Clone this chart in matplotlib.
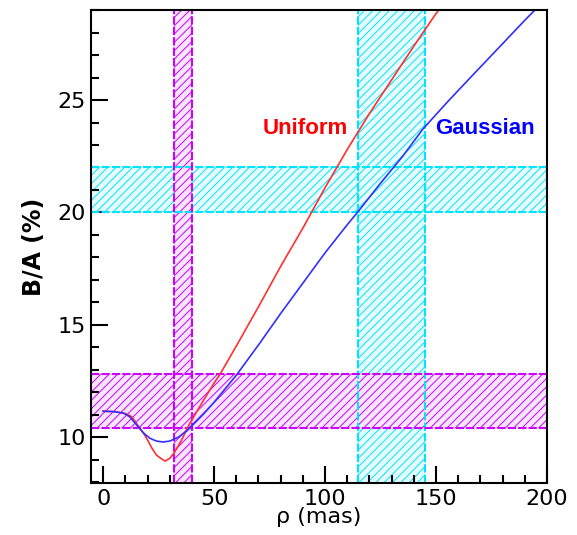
import matplotlib
matplotlib.use("Agg")
import matplotlib.pyplot as plt
from matplotlib.ticker import MultipleLocator

# ---------------------------
# DATA
# ---------------------------
rho_uniform = [0, 5, 10, 13, 15, 18, 20, 22, 24, 26, 28, 30, 32, 35, 39, 45,
               50, 53, 60, 70, 80, 90, 100, 110, 120, 130, 140, 150, 152]
ba_uniform = [11.15, 11.13, 11.05, 10.9, 10.6, 10.2, 9.87, 9.5, 9.2, 9.05, 8.93,
              9.05, 9.3, 9.8, 10.6, 11.6, 12.4, 12.85, 14.05, 15.8, 17.6, 19.3,
              21.1, 22.8, 24.4, 25.9, 27.4, 28.85, 29.1]

rho_gauss = [0, 5, 9, 12, 15, 18, 21, 24, 27, 30, 34, 38, 45, 50, 55, 60, 70,
             80, 90, 100, 110, 115, 125, 135, 144, 155, 165, 178, 190, 196]
ba_gauss = [11.15, 11.13, 11.07, 10.9, 10.55, 10.2, 9.95, 9.82, 9.78, 9.82, 10.0,
            10.3, 11.0, 11.55, 12.15, 12.75, 14.1, 15.5, 16.85, 18.2, 19.45,
            20.05, 21.3, 22.5, 23.7, 24.9, 25.95, 27.3, 28.55, 29.15]

# bands: (low, high)
magenta_rho = (32, 40)
magenta_ba = (10.4, 12.8)
cyan_rho = (115, 145)
cyan_ba = (20.0, 22.0)

MAGENTA = "#cc00ff"
CYAN = "#00e5ff"

plt.rcParams["font.family"] = ["DejaVu Sans"]
plt.rcParams["hatch.linewidth"] = 0.7

fig = plt.figure(figsize=(5.77, 5.35), dpi=100)
ax = fig.add_axes([0.158, 0.097, 0.790, 0.884])

# ---------------------------
# HATCHED BANDS
# ---------------------------
def band(lo, hi, color, fill, vertical):
    span = ax.axvspan if vertical else ax.axhspan
    span(lo, hi, facecolor=fill, edgecolor=color, hatch="////",
         linewidth=0, zorder=1)
    line = ax.axvline if vertical else ax.axhline
    for v in (lo, hi):
        line(v, color=color, lw=1.5, ls=(0, (4, 1)), zorder=2)

band(*cyan_ba, CYAN, "#e6fcff", False)
band(*cyan_rho, CYAN, "#e6fcff", True)
band(*magenta_ba, MAGENTA, "#f8e6ff", False)
band(*magenta_rho, MAGENTA, "#f8e6ff", True)

# ---------------------------
# CURVES
# ---------------------------
ax.plot(rho_uniform, ba_uniform, color="#ff3030", lw=1.2, zorder=3)
ax.plot(rho_gauss, ba_gauss, color="#3030ff", lw=1.2, zorder=3)

ax.text(91, 23.75, "Uniform", color="#ff0000", fontsize=16, fontweight="bold",
        family="Liberation Sans", ha="center", va="center", zorder=4)
ax.text(172, 23.75, "Gaussian", color="#0000ff", fontsize=16, fontweight="bold",
        family="Liberation Sans", ha="center", va="center", zorder=4)

# ---------------------------
# AXES
# ---------------------------
ax.set_xlim(-5.4, 200)
ax.set_ylim(7.95, 29)
ax.xaxis.set_major_locator(MultipleLocator(50))
ax.xaxis.set_minor_locator(MultipleLocator(10))
ax.yaxis.set_major_locator(MultipleLocator(5))
ax.yaxis.set_minor_locator(MultipleLocator(1))
ax.tick_params(which="both", direction="in", top=False, right=False,
               labelsize=16, width=1.5)
ax.tick_params(which="major", length=12, pad=4)
ax.tick_params(which="minor", length=6)
for s in ax.spines.values():
    s.set_linewidth(1.5)
    s.set_zorder(5)

ax.set_xlabel("ρ (mas)", fontsize=16, labelpad=-1)
ax.set_ylabel("B/A (%)", fontsize=17, fontweight="bold", labelpad=8)

plt.savefig("out.png", dpi=100)
